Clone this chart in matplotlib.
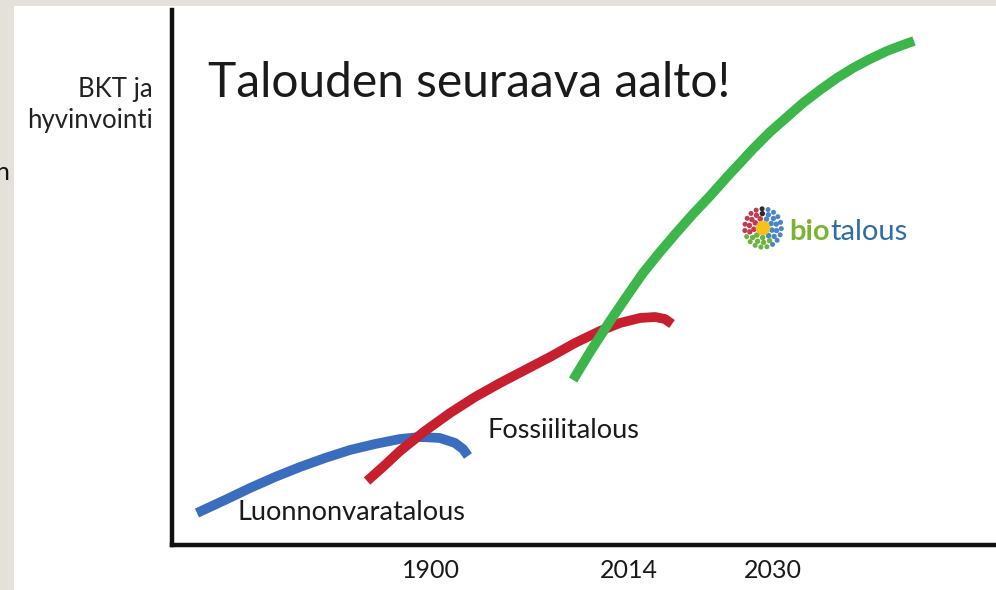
import numpy as np
import matplotlib.pyplot as plt
from matplotlib.patches import Rectangle

# curve points in arbitrary units (x: time, y: welfare)
blue_x = [3.03, 6.43, 9.47, 12.50, 15.53, 18.57, 21.60, 24.64, 27.67,
          30.10, 32.52, 34.34, 35.32, 35.92]
blue_y = [5.98, 8.41, 10.65, 12.71, 14.58, 16.26, 17.76, 18.88, 19.81,
          20.19, 20.00, 19.07, 17.94, 16.64]
red_x = [23.67, 25.85, 27.67, 30.70, 33.74, 36.77, 39.81, 42.84, 45.87,
         48.91, 51.94, 54.37, 56.80, 58.62, 59.83, 60.68]
red_y = [11.96, 14.95, 17.57, 21.31, 24.67, 27.66, 30.28, 32.71, 35.14,
         37.76, 40.00, 41.50, 42.43, 42.62, 42.24, 41.31]
green_x = [48.67, 50.73, 53.16, 55.22, 57.16, 59.22, 61.29, 63.23, 65.29,
           67.35, 68.93, 70.51, 72.57, 74.64, 76.58, 78.64, 80.70, 82.65,
           84.71, 86.77, 88.35, 90.05]
green_y = [30.84, 36.07, 41.87, 46.54, 50.84, 54.77, 58.50, 61.87, 65.23,
           68.79, 71.40, 74.02, 77.20, 80.00, 82.62, 85.05, 87.29, 89.16,
           90.84, 92.34, 93.27, 94.21]

tick_pos = [31.4, 55.4, 72.9]
tick_labels = ['1900', '2014', '2030']

W, H = 996, 590
fig = plt.figure(figsize=(W / 100, H / 100), dpi=100)
fig.patch.set_facecolor('white')

# grey slide border on left and top
fig.add_artist(Rectangle((0, 0), 14 / W, 1, transform=fig.transFigure,
                         facecolor='#e4e1db', edgecolor='none', zorder=0))
fig.add_artist(Rectangle((0, 1 - 6 / H), 1, 6 / H, transform=fig.transFigure,
                         facecolor='#e4e1db', edgecolor='none', zorder=0))
fig.text(9 / W, 1 - 172 / H, 'n', ha='right', va='center', fontsize=18,
         family='Lato', color='#111111')

ax = fig.add_axes([172 / W, 45 / H, (W - 172) / W, (545 - 10) / H])
ax.set_xlim(0, 100)
ax.set_ylim(0, 100)
ax.set_facecolor('none')
for s in ['top', 'right']:
    ax.spines[s].set_visible(False)
for s in ['left', 'bottom']:
    ax.spines[s].set_linewidth(3.2)
    ax.spines[s].set_color('#111111')

lw = 7.0
style = dict(lw=lw, solid_capstyle='butt', solid_joinstyle='round')
ax.plot(blue_x, blue_y, color='#3b6dbf', **style)
ax.plot(red_x, red_y, color='#c81f2e', **style)
ax.plot(green_x, green_y, color='#3cb64a', **style)

ax.set_xticks(tick_pos)
ax.set_xticklabels(tick_labels, fontsize=18, family='Lato', color='#1a1a1a')
ax.tick_params(axis='x', length=0, pad=10)
ax.set_yticks([])

ax.text((237 - 172) / 8.24, (545 - 520) / 5.35, 'Luonnonvaratalous',
        fontsize=19.5, family='Lato', va='baseline', color='#1a1a1a')
ax.text((487 - 172) / 8.24, (545 - 438) / 5.35, 'Fossiilitalous',
        fontsize=19.5, family='Lato', va='baseline', color='#1a1a1a')

fig.text(153 / W, 1 - 97 / H, 'BKT ja', ha='right', va='baseline',
         fontsize=18.5, family='Lato', color='#222222')
fig.text(153 / W, 1 - 128 / H, 'hyvinvointi', ha='right', va='baseline',
         fontsize=18.5, family='Lato', color='#222222')

fig.text(208 / W, 1 - 97 / H, 'Talouden seuraava aalto!', ha='left',
         va='baseline', fontsize=34.5, family='Lato', color='#1a1a1a')

# biotalous logo
lax = fig.add_axes([742 / W, 1 - 250 / H, 42 / W, 44 / H])
lax.set_xlim(-1.1, 1.1)
lax.set_ylim(-1.1, 1.1)
lax.axis('off')


def sector_colour(a):
    d = np.degrees(a) % 360
    if 78 <= d < 100:
        return '#2a2a2a'
    if 100 <= d < 205:
        return '#c23a52'
    if 205 <= d < 300:
        return '#6db33f'
    return '#4a86c5'


for r, n, sz in [(0.48, 9, 16), (0.72, 14, 15), (0.96, 19, 13)]:
    ang = np.linspace(0, 2 * np.pi, n, endpoint=False) + r
    c = [sector_colour(a) for a in ang]
    lax.scatter(r * np.cos(ang), r * np.sin(ang), s=sz, c=c, edgecolors='none')
lax.scatter([0], [0], s=110, c='#f4c21a', edgecolors='none')

bio = fig.text(789 / W, 1 - 240 / H, 'bio', ha='left', va='baseline',
               fontsize=21, family='Lato', fontweight='bold', color='#7ab532')
fig.canvas.draw()
bb = bio.get_window_extent()
fig.text(bb.x1 / W + 1 / W, 1 - 240 / H, 'talous', ha='left', va='baseline',
         fontsize=21, family='Lato', color='#2f6da6')

fig.savefig('out.png', dpi=100)
